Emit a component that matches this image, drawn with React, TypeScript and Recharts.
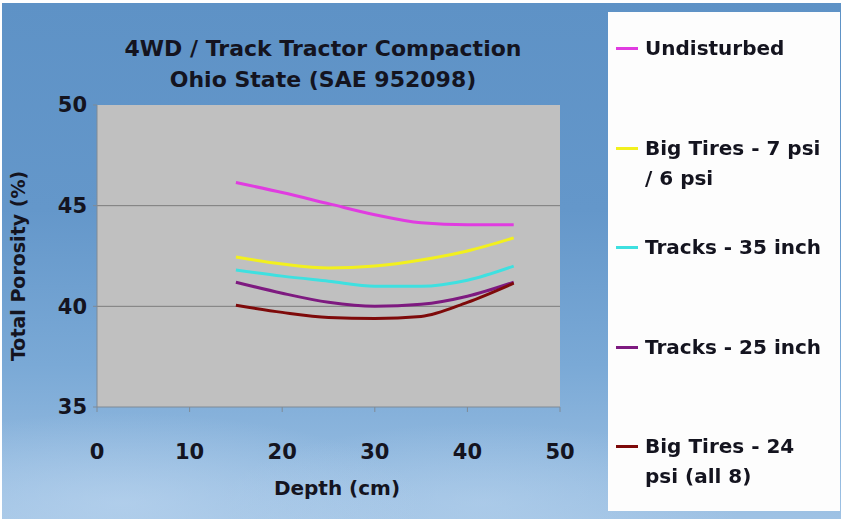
import { LineChart, Line, XAxis, YAxis, CartesianGrid, ReferenceLine, Legend } from 'recharts';

const depths = [15, 20, 25, 30, 35, 40, 45];
const undisturbed = [46.15, 45.65, 45.1, 44.55, 44.15, 44.05, 44.05];
const bigTires7 = [42.45, 42.1, 41.9, 42.0, 42.3, 42.75, 43.4];
const tracks35 = [41.8, 41.5, 41.25, 41.0, 41.0, 41.3, 42.0];
const tracks25 = [41.2, 40.65, 40.2, 40.0, 40.1, 40.5, 41.2];
const bigTires24 = [40.05, 39.7, 39.45, 39.4, 39.5, 40.2, 41.15];

const xTicks = [0, 10, 20, 30, 40, 50];
const yTicks = [35, 40, 45, 50];
const gridValues = [40, 45];

const series = [
  { key: 'undisturbed', name: 'Undisturbed', color: '#e03ce0', values: undisturbed },
  { key: 'bigTires7', name: 'Big Tires - 7 psi\n/ 6 psi', color: '#f2f01e', values: bigTires7 },
  { key: 'tracks35', name: 'Tracks - 35 inch', color: '#3ee0e0', values: tracks35 },
  { key: 'tracks25', name: 'Tracks - 25 inch', color: '#7e1a80', values: tracks25 },
  { key: 'bigTires24', name: 'Big Tires - 24\npsi (all 8)', color: '#7e0a0a', values: bigTires24 },
];

const data = depths.map((d, i) => {
  const row: Record<string, number> = { depth: d };
  series.forEach((s) => (row[s.key] = s.values[i]));
  return row;
});

const FONT = '"DejaVu Sans", sans-serif';
const INK = '#14141f';

function LegendBox() {
  return (
    <div
      style={{
        position: 'absolute',
        left: 608,
        top: 12,
        width: 232,
        height: 499,
        background: '#fdfdfd',
        fontFamily: FONT,
        fontWeight: 'bold',
        fontSize: 20,
        color: INK,
        boxSizing: 'border-box',
        paddingTop: 21,
      }}
    >
      {series.map((s) => (
        <div key={s.key} style={{ position: 'relative', height: 99.5, paddingLeft: 37 }}>
          <div style={{ position: 'absolute', left: 8, top: 14, width: 22, height: 3, background: s.color }} />
          <div style={{ whiteSpace: 'pre-line', lineHeight: '30px' }}>{s.name}</div>
        </div>
      ))}
    </div>
  );
}

export default function App() {
  return (
    <div style={{ position: 'fixed', left: 0, top: 0, width: 841, height: 519, background: '#fff' }}>
      <div
        style={{
          position: 'absolute',
          left: 2,
          top: 3,
          right: 0,
          bottom: 0,
          background:
            'radial-gradient(ellipse 300px 90px at 120px 500px, rgba(190,215,240,0.6), rgba(190,215,240,0)), radial-gradient(ellipse 260px 80px at 480px 500px, rgba(185,212,238,0.5), rgba(185,212,238,0)), linear-gradient(to bottom, #5e92c6 0%, #6497ca 40%, #7aa9d6 70%, #9fc2e4 100%)',
        }}
      />
      <div
        style={{
          position: 'absolute',
          left: 123,
          width: 400,
          top: 33,
          textAlign: 'center',
          fontFamily: FONT,
          fontWeight: 'bold',
          fontSize: 22,
          lineHeight: '31px',
          color: INK,
          whiteSpace: 'nowrap',
        }}
      >
        4WD / Track Tractor Compaction
        <br />
        Ohio State (SAE 952098)
      </div>
      <div style={{ position: 'absolute', left: 0, top: 0 }}>
        <LineChart width={841} height={519} data={data} margin={{ top: 105, right: 281, bottom: 0, left: 7 }}>
          <CartesianGrid horizontal={false} vertical={false} fill="#c0c0c0" stroke="none" />
          {gridValues.map((v) => (
            <ReferenceLine key={v} y={v} stroke="#7c7c7c" strokeWidth={1} />
          ))}
          <XAxis
            dataKey="depth"
            type="number"
            domain={[0, 50]}
            ticks={xTicks}
            height={112}
            stroke="#7f8a96"
            tickSize={5}
            tickMargin={32}
            tick={{ fill: INK, fontFamily: FONT, fontWeight: 'bold', fontSize: 21 }}
            label={{
              content: () => (
                <text x={337} y={495} textAnchor="middle" fill={INK} fontFamily={FONT} fontWeight="bold" fontSize={20}>
                  Depth (cm)
                </text>
              ),
            }}
          />
          <YAxis
            type="number"
            domain={[35, 50]}
            ticks={yTicks}
            width={90}
            stroke="#7f8a96"
            tickSize={4}
            tickMargin={6}
            tick={{ fill: INK, fontFamily: FONT, fontWeight: 'bold', fontSize: 21 }}
            label={{
              content: () => (
                <text
                  x={25}
                  y={266}
                  transform="rotate(-90 25 266)"
                  textAnchor="middle"
                  fill={INK}
                  fontFamily={FONT}
                  fontWeight="bold"
                  fontSize={19}
                >
                  Total Porosity (%)
                </text>
              ),
            }}
          />
          {series.map((s) => (
            <Line
              key={s.key}
              dataKey={s.key}
              name={s.name}
              type="monotone"
              stroke={s.color}
              strokeWidth={3}
              dot={false}
              isAnimationActive={false}
            />
          ))}
          <Legend content={() => null} />
        </LineChart>
      </div>
      <LegendBox />
    </div>
  );
}
